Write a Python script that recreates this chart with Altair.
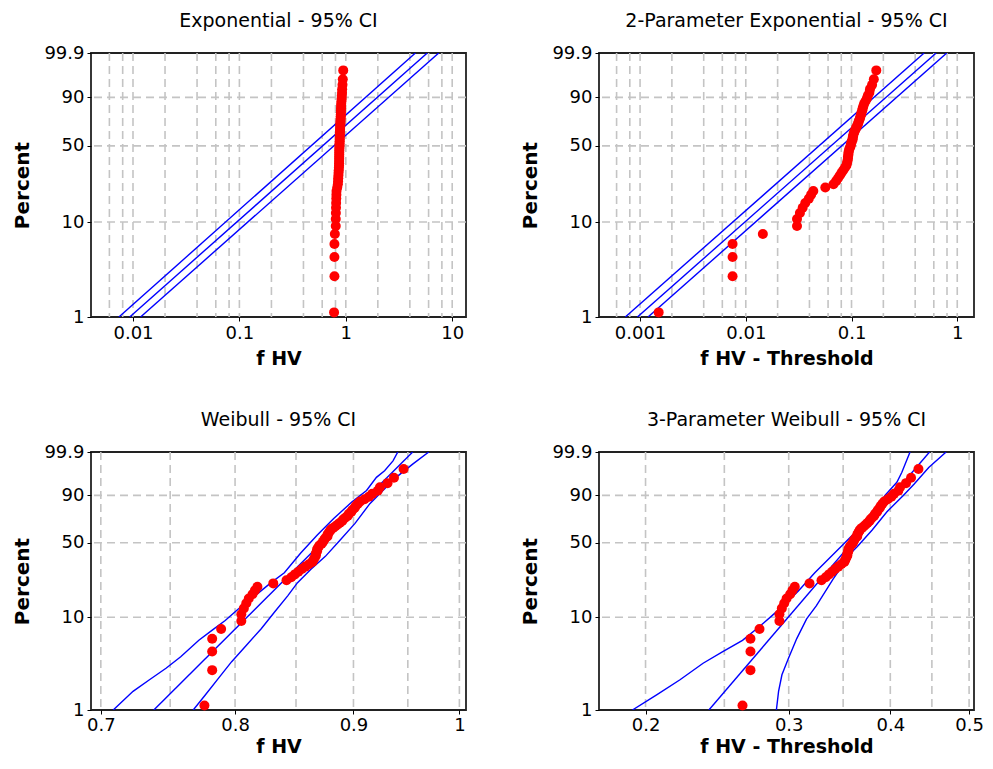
import altair as alt
import numpy as np
import pandas as pd

FONT = "DejaVu Sans"

# ---------------- data ----------------
PERCENT = [1.12, 2.72, 4.33, 5.93, 7.53, 9.13, 10.74, 12.34, 13.94, 15.54,
           17.15, 18.75, 20.35, 21.96, 23.56, 25.16, 26.76, 28.37, 29.97, 31.57,
           33.17, 34.78, 36.38, 37.98, 39.58, 41.19, 42.79, 44.39, 45.99, 47.60,
           49.20, 50.80, 52.40, 54.01, 55.61, 57.21, 58.81, 60.42, 62.02, 63.62,
           65.22, 66.83, 68.43, 70.03, 71.63, 73.24, 74.84, 76.44, 78.04, 79.65,
           81.25, 82.85, 84.46, 86.06, 87.66, 89.26, 90.87, 92.47, 94.07, 95.67,
           97.28, 98.88]

FHV = [0.776, 0.782, 0.782, 0.782, 0.789, 0.805, 0.805, 0.807, 0.809, 0.811,
       0.814, 0.816, 0.818, 0.831, 0.842, 0.846, 0.849, 0.852, 0.855, 0.858,
       0.861, 0.864, 0.865, 0.866, 0.867, 0.867, 0.868, 0.868, 0.869, 0.870,
       0.872, 0.873, 0.874, 0.875, 0.877, 0.877, 0.878, 0.879, 0.880, 0.882,
       0.884, 0.886, 0.888, 0.890, 0.891, 0.893, 0.895, 0.896, 0.898, 0.899,
       0.901, 0.902, 0.904, 0.906, 0.910, 0.914, 0.917, 0.922, 0.924, 0.931,
       0.937, 0.946]

THRESHOLD_2P = 0.7745
THRESHOLD_3P = 0.5128

Y_TICKS = [1, 10, 50, 90, 99.9]
Y_GRID = [10, 50, 90]

# Exponential
EXP_FIT_X, EXP_FIT_P = [0.00931, 5.83], [1, 99.9]
EXP_HI_X, EXP_HI_P = [0.00737, 4.51], [1, 99.9]
EXP_LO_X, EXP_LO_P = [0.01178, 7.47], [1, 99.9]

# 2-parameter exponential
EXP2_FIT_X, EXP2_FIT_P = [0.000944, 0.632], [1, 99.9]
EXP2_HI_X, EXP2_HI_P = [0.000725, 0.486], [1, 99.9]
EXP2_LO_X, EXP2_LO_P = [0.00119, 0.796], [1, 99.9]

# Weibull
WB_FIT_X, WB_FIT_P = [0.7379, 0.9546], [1, 99.9]
WB_HI_X = [0.7087, 0.7228, 0.7347, 0.7469, 0.7579, 0.7717, 0.7818, 0.7922, 0.8026,
           0.8159, 0.8292, 0.8402, 0.8540, 0.8682, 0.8825, 0.8985, 0.9118, 0.9208,
           0.9283, 0.9361, 0.9406]
WB_HI_P = [1, 1.60, 2.14, 2.85, 3.80, 5.70, 7.26, 9.23, 12.16, 16.55, 22.33, 27.72,
           41.45, 57.08, 72.31, 85.69, 92.61, 97.36, 98.64, 99.60, 99.9]
WB_LO_X = [0.7674, 0.7768, 0.7870, 0.7973, 0.8091, 0.8211, 0.8319, 0.8430, 0.8513,
           0.8625, 0.8752, 0.8870, 0.9014, 0.9148, 0.9268, 0.9390, 0.9546, 0.9700]
WB_LO_P = [1, 1.47, 2.23, 3.36, 5.05, 7.57, 11.26, 16.55, 22.33, 29.72, 38.83, 51.09,
           67.79, 84.56, 92.61, 97.36, 99.38, 99.9]

# 3-parameter Weibull
W3_FIT_X, W3_FIT_P = [0.2393, 0.447], [1, 99.9]
W3_HI_X = [0.1927, 0.2066, 0.2205, 0.2354, 0.2489, 0.2632, 0.2757, 0.2862, 0.2970,
           0.3083, 0.3230, 0.3480, 0.3680, 0.3854, 0.3940, 0.4075, 0.4132, 0.4230]
W3_HI_P = [1, 1.47, 2.14, 3.23, 4.30, 5.70, 7.88, 10.39, 13.66, 18.53, 27.72, 46.8,
           64.7, 82.0, 89.96, 95.95, 98.37, 99.9]
W3_LO_X = [0.2897, 0.2915, 0.2943, 0.2998, 0.3069, 0.3156, 0.3245, 0.3400, 0.3578,
           0.3644, 0.3800, 0.3960, 0.4150, 0.4280, 0.4460, 0.4685]
W3_LO_P = [1, 1.60, 2.42, 3.65, 5.95, 9.61, 13.14, 24.0, 41.45, 46.8, 61.65, 78.0,
           90.0, 95.4, 99.06, 99.9]


def ptrans(p):
    p = np.asarray(p, dtype=float) / 100.0
    return np.log(-np.log(1.0 - p))


Y_MIN, Y_MAX = [float(v) for v in ptrans([1, 99.9])]
Y_LABEL_EXPR = ("datum.value < -3 ? '1' : datum.value < -1 ? '10' : "
                "datum.value < 0.4 ? '50' : datum.value < 1.5 ? '90' : '99.9'")

PLOT_W = 375


def grid_values(dom, mults, decades):
    out = []
    for d in decades:
        for m in mults:
            v = m * 10.0 ** d
            if dom[0] < v < dom[1]:
                out.append(v)
    return out


def panel(title, xtitle, xs, lines, xdom, xticks, xgrid, h, lab_pad, title_pad, toff):
    pts = pd.DataFrame({"x": xs, "y": ptrans(PERCENT)})
    rows = []
    for name, (lx, lp) in lines.items():
        ly = ptrans(lp)
        for i, (a, b) in enumerate(zip(lx, ly)):
            rows.append({"x": a, "y": float(b), "s": name, "o": i})
    ldf = pd.DataFrame(rows)
    xg = pd.DataFrame({"x": xgrid})
    yg = pd.DataFrame({"y": ptrans(Y_GRID)})

    xaxis = alt.Axis(values=xticks, format="~g", title=xtitle, grid=False, domain=False,
                     tickSize=4, tickColor="black", tickWidth=1,
                     labelFont=FONT, labelFontSize=18, labelColor="black",
                     labelPadding=lab_pad, labelFlush=False, labelOverlap=False,
                     titleFont=FONT, titleFontSize=19, titleFontWeight="bold",
                     titleColor="black", titlePadding=title_pad)
    yaxis = alt.Axis(values=[float(v) for v in ptrans(Y_TICKS)], labelExpr=Y_LABEL_EXPR,
                     title="Percent", grid=False, domain=False,
                     tickSize=4, tickColor="black", tickWidth=1,
                     labelFont=FONT, labelFontSize=18, labelColor="black", labelPadding=3,
                     labelFlush=False, labelOverlap=False,
                     titleFont=FONT, titleFontSize=20, titleFontWeight="bold",
                     titleColor="black", titlePadding=11)

    xs_ = alt.Scale(type="log", domain=xdom, nice=False, zero=False)
    ys_ = alt.Scale(domain=[Y_MIN, Y_MAX], nice=False, zero=False)

    def X():
        return alt.X("x:Q", scale=xs_, axis=xaxis)

    def Y():
        return alt.Y("y:Q", scale=ys_, axis=yaxis)

    vgrid = alt.Chart(xg).mark_rule(color="#c4c4c4", strokeWidth=1.6,
                                    strokeDash=[8, 5]).encode(x=X())
    hgrid = alt.Chart(yg).mark_rule(color="#c4c4c4", strokeWidth=1.6,
                                    strokeDash=[8, 5]).encode(y=Y())
    ln = alt.Chart(ldf).mark_line(color="#0000ff", strokeWidth=1.4, clip=True).encode(
        x=X(), y=Y(), detail="s:N", order="o:Q")
    dots = alt.Chart(pts).mark_circle(color="#ff0000", size=100, opacity=1).encode(
        x=X(), y=Y())

    return alt.layer(vgrid, hgrid, ln, dots).properties(
        width=PLOT_W, height=h,
        title=alt.TitleParams(text=title, font=FONT, fontSize=19, fontWeight="normal",
                              color="black", anchor="middle", frame="group", offset=toff))


M = [1, 2, 4, 6, 8]

dom1 = [0.00403, 13.48]
p1 = panel("Exponential - 95% CI", "f HV", FHV,
           {"fit": (EXP_FIT_X, EXP_FIT_P), "hi": (EXP_HI_X, EXP_HI_P), "lo": (EXP_LO_X, EXP_LO_P)},
           dom1, [0.01, 0.1, 1, 10], grid_values(dom1, M, range(-3, 2)), 264, 3, 7, 13)

dom2 = [0.000409, 1.44]
x2 = [round(v - THRESHOLD_2P, 5) for v in FHV]
p2 = panel("2-Parameter Exponential - 95% CI", "f HV - Threshold", x2,
           {"fit": (EXP2_FIT_X, EXP2_FIT_P), "hi": (EXP2_HI_X, EXP2_HI_P), "lo": (EXP2_LO_X, EXP2_LO_P)},
           dom2, [0.001, 0.01, 0.1, 1], grid_values(dom2, M, range(-4, 1)), 264, 3, 7, 13)

dom3 = [0.6932, 1.0066]
p3 = panel("Weibull - 95% CI", "f HV", FHV,
           {"fit": (WB_FIT_X, WB_FIT_P), "hi": (WB_HI_X, WB_HI_P), "lo": (WB_LO_X, WB_LO_P)},
           dom3, [0.7, 0.8, 0.9, 1], [0.7, 0.75, 0.8, 0.85, 0.9, 0.95, 1.0], 258, 2, 3, 13)

dom4 = [0.1753, 0.507]
x4 = [round(v - THRESHOLD_3P, 5) for v in FHV]
p4 = panel("3-Parameter Weibull - 95% CI", "f HV - Threshold", x4,
           {"fit": (W3_FIT_X, W3_FIT_P), "hi": (W3_HI_X, W3_HI_P), "lo": (W3_LO_X, W3_LO_P)},
           dom4, [0.2, 0.3, 0.4, 0.5], [0.2, 0.25, 0.3, 0.35, 0.4, 0.45, 0.5], 258, 2, 3, 13)

chart = alt.vconcat(
    alt.hconcat(p1, p2, spacing=52),
    alt.hconcat(p3, p4, spacing=52),
    spacing=41,
).properties(
    padding={"left": 4, "top": 3, "right": 0, "bottom": 0},
    background="white",
).configure_view(stroke="#222222", strokeWidth=1.8)

chart.save("out.html", embed_options={"renderer": "svg", "actions": False})
